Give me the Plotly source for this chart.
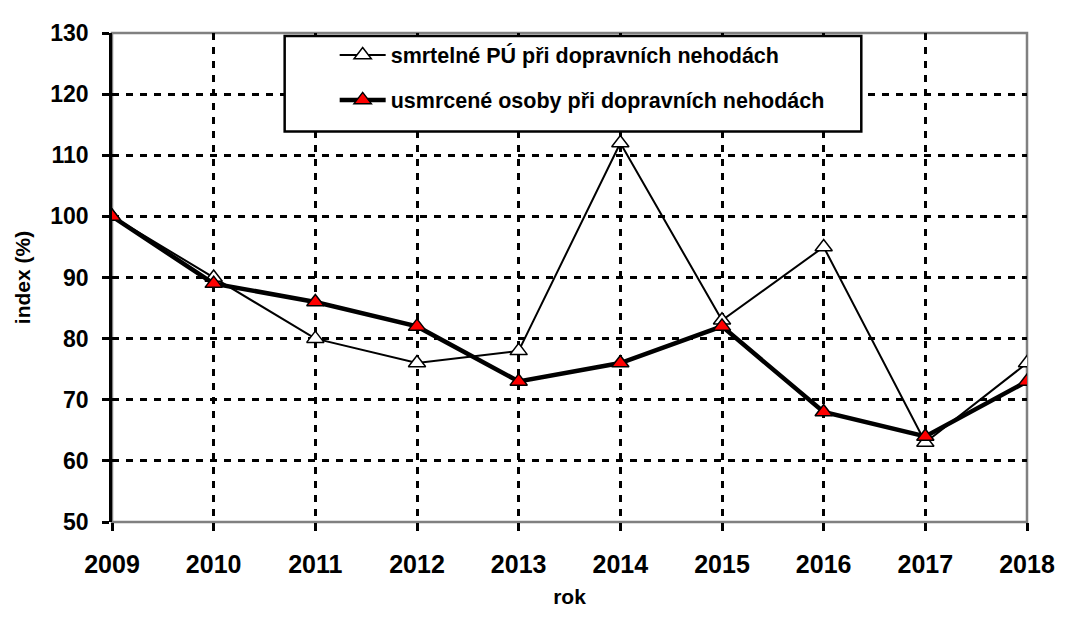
import plotly.graph_objects as go

years = [2009, 2010, 2011, 2012, 2013, 2014, 2015, 2016, 2017, 2018]
smrtelne_pu = [100, 90, 80, 76, 78, 112, 83, 95, 63, 76]
usmrcene_osoby = [100, 89, 86, 82, 73, 76, 82, 68, 64, 73]
name1 = "<b>smrtelné PÚ při dopravních nehodách</b>"
name2 = "<b>usmrcené osoby při dopravních nehodách</b>"
y_ticks = list(range(50, 131, 10))

fig = go.Figure()
fig.add_trace(go.Scatter(
    x=years, y=smrtelne_pu, name=name1, mode="lines+markers", legendgroup="a",
    line=dict(color="black", width=2),
    marker=dict(symbol="triangle-up", size=15, color="white", line=dict(color="black", width=1.5)),
))
fig.add_trace(go.Scatter(
    x=years, y=usmrcene_osoby, name=name2, mode="lines+markers", legendgroup="b",
    line=dict(color="black", width=4.5),
    marker=dict(symbol="triangle-up", size=15, color="red", line=dict(color="black", width=1.5)),
))

font = "Liberation Sans, Arial, sans-serif"
dash = "7px,7px"
# page body has an 8px margin: figure is sized/offset to compensate
fig.update_layout(
    width=1059, height=609,
    margin=dict(l=104, r=33, t=14, b=83),
    paper_bgcolor="white", plot_bgcolor="white",
    font=dict(family=font, color="black"),
    showlegend=True,
    legend=dict(
        x=0.1909, y=0.997, xanchor="left", yanchor="top",
        borderwidth=0, bgcolor="rgba(0,0,0,0)",
        font=dict(size=21.5, family=font, color="black"),
        tracegroupgap=14, itemwidth=46, indentation=48,
    ),
    xaxis=dict(
        range=[2009, 2018], tickvals=years, ticktext=[f"<b>{y}</b>" for y in years],
        tickfont=dict(size=25), showgrid=True, gridcolor="black", gridwidth=2.5,
        griddash=dash, ticks="outside", ticklen=8, tickwidth=2.5, tickcolor="black",
        ticklabelstandoff=12, showline=False, zeroline=False,
        title=dict(text="<b>rok</b>", font=dict(size=21), standoff=12),
    ),
    yaxis=dict(
        range=[50, 130], tickvals=y_ticks, ticktext=[f"<b>{v}</b>" for v in y_ticks],
        tickfont=dict(size=23), showgrid=True, gridcolor="black", gridwidth=2.5,
        griddash=dash, ticks="outside", ticklen=7, tickwidth=2.5, tickcolor="black",
        ticklabelstandoff=9, showline=True, linecolor="black", linewidth=2.5,
        zeroline=False,
        title=dict(text="<b>index (%)</b>", font=dict(size=21), standoff=14),
    ),
    shapes=[
        dict(type="rect", xref="paper", yref="paper", x0=0, x1=1, y0=0, y1=1,
             line=dict(color="#808080", width=2.5), layer="below"),
        dict(type="rect", xref="paper", yref="paper", x0=0.1887, x1=0.8189, y0=0.7988, y1=0.994,
             line=dict(color="black", width=2.5), fillcolor="white", layer="above"),
    ],
)

fig.write_html("out.html")
